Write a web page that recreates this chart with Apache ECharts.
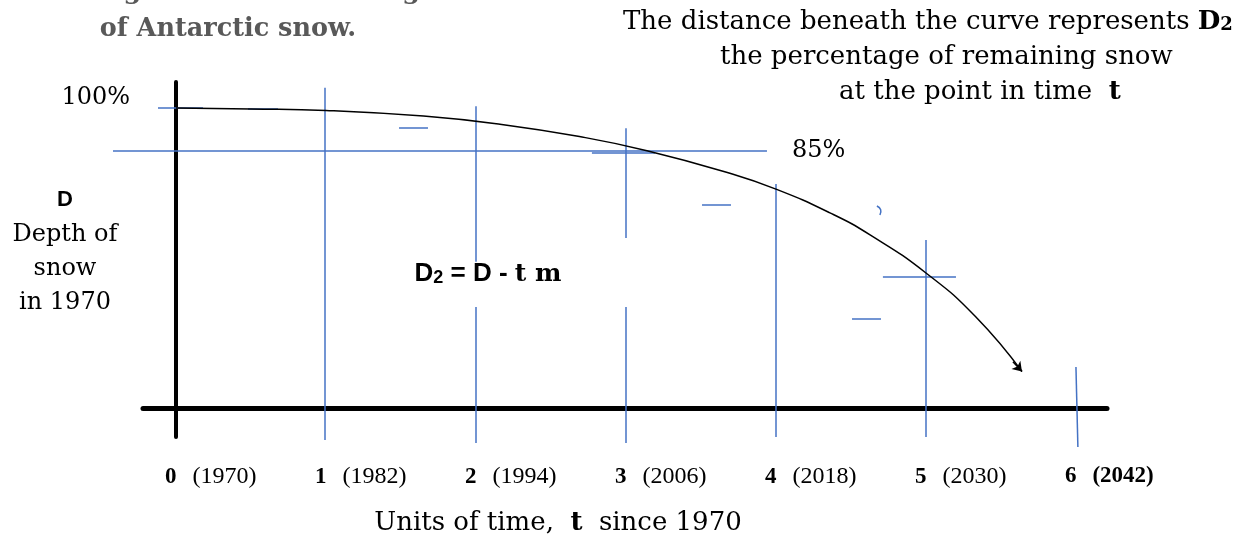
<!DOCTYPE html>
<html>
<head>
<meta charset="utf-8">
<script src="https://cdn.jsdelivr.net/npm/echarts@6/dist/echarts.min.js"></script>
<style>
  html, body { margin: 0; padding: 0; background: #fff; }
  #main { width: 1252px; height: 541px; }
</style>
</head>
<body>
<div id="main"></div>
<script>
// time units since 1970 (1 unit = 12 years)
var timeUnits = [0, 1, 2, 3, 4, 5, 6]
var years = ['1970', '1982', '1994', '2006', '2018', '2030', '2042']
var yearBold = [0, 0, 0, 0, 0, 0, 1]

// remaining snow (%)
var curveT = [0, 0.5, 1, 1.65, 2.16, 2.69, 3.14, 3.67, 4.0, 4.36, 4.63, 5.0, 5.33, 5.64]
var curveP = [100, 99.7, 99.2, 97.3, 94.6, 90.5, 85.8, 78.6, 73.0, 65.1, 57.7, 45.1, 30.6, 12.3]

// hand drawn blue strokes [t1, p1, t2, p2]
var guideLines = [
  [-0.12, 100, 0.18, 100],
  [0.48, 99.8, 0.68, 99.8],
  [1.487, 93.5, 1.68, 93.5],
  [2.773, 85, 3.193, 85],
  [3.507, 67.7, 3.7, 67.7],
  [4.507, 29.8, 4.7, 29.8],
  [4.713, 44, 5.2, 44],
  [0.99, 106.7, 0.99, -10.5],
  [2, 100.6, 2, 48.8],
  [2, 33.8, 2, -11.5],
  [3, 93.3, 3, 56.7],
  [3, 33.8, 3, -11.5],
  [4, 74.7, 4, -9.5],
  [5, 56.1, 5, -9.5],
  [6, 13.8, 6.013, -12.8]
]
var line85 = [-0.42, 85.8, 3.94, 85.8]
var smallArc = [4.673, 67.4, 4.693, 64.4]
var arrowHead = [5.58, 15.6, 5.64, 12.3]

var blue = '#4472C4'
var serif = 'DejaVu Serif'

function seg (s) {
  return { coords: [[s[0], s[1]], [s[2], s[3]]] }
}

var chart = echarts.init(document.getElementById('main'))

var option = {
  animation: false,
  grid: { left: 143, right: 145, top: 82, bottom: 104 },
  xAxis: {
    type: 'value',
    min: -0.22,
    max: 6.207,
    axisLine: { onZero: true, lineStyle: { color: '#000', width: 5 } },
    axisTick: { show: false },
    splitLine: { show: false },
    axisLabel: {
      customValues: timeUnits,
      align: 'left',
      margin: 28,
      padding: [0, 0, 0, -11],
      formatter: function (v) {
        var i = timeUnits.indexOf(Math.round(v))
        if (i < 0) return ''
        return '{n|' + timeUnits[i] + '}' + (yearBold[i] ? '{yb|(' : '{y|(') + years[i] + ')}'
      },
      rich: {
        n: { fontFamily: 'Liberation Serif', fontWeight: 'bold', fontSize: 23, color: '#000', padding: [0, 16, 0, 0] },
        y: { fontFamily: 'Liberation Serif', fontSize: 24, color: '#000' },
        yb: { fontFamily: 'Liberation Serif', fontWeight: 'bold', fontSize: 23, color: '#000' }
      }
    }
  },
  yAxis: {
    type: 'value',
    min: -9.48,
    max: 108.65,
    axisLine: { onZero: true, lineStyle: { color: '#000', width: 4 } },
    axisTick: { show: false },
    splitLine: { show: false },
    axisLabel: {
      customValues: [100],
      margin: 13,
      verticalAlign: 'bottom',
      lineHeight: 20,
      fontFamily: serif,
      fontSize: 24,
      color: '#000',
      formatter: function (v) { return Math.round(v) + '%' }
    }
  },
  series: [
    {
      type: 'line',
      smooth: 0.5,
      symbol: 'none',
      clip: false,
      lineStyle: { color: '#000', width: 1.5 },
      data: curveT.map(function (t, i) { return [t, curveP[i]] })
    },
    {
      type: 'lines',
      coordinateSystem: 'cartesian2d',
      clip: false,
      silent: true,
      lineStyle: { color: blue, width: 1.5, opacity: 1 },
      data: guideLines.map(seg)
    },
    {
      type: 'lines',
      coordinateSystem: 'cartesian2d',
      clip: false,
      silent: true,
      lineStyle: { color: blue, width: 1.5, opacity: 1 },
      label: {
        show: true,
        position: 'end',
        distance: 25,
        formatter: '85%',
        fontFamily: serif,
        fontSize: 24,
        color: '#000',
        padding: [14, 0, 0, 0]
      },
      data: [seg(line85)]
    },
    {
      type: 'lines',
      coordinateSystem: 'cartesian2d',
      clip: false,
      silent: true,
      lineStyle: { color: blue, width: 1.5, opacity: 1, curveness: 0.5 },
      data: [seg(smallArc)]
    },
    {
      type: 'lines',
      coordinateSystem: 'cartesian2d',
      clip: false,
      silent: true,
      symbol: ['none', 'arrow'],
      symbolSize: 9,
      lineStyle: { color: '#000', width: 1.5, opacity: 1 },
      data: [seg(arrowHead)]
    }
  ],
  graphic: [
    {
      type: 'text', x: 420, y: -8,
      style: { text: 'Graph illustrating the rate of melting', align: 'right', verticalAlign: 'middle',
        fontFamily: serif, fontWeight: 'bold', fontSize: 25.5, fill: '#595959' }
    },
    {
      type: 'text', x: 228, y: 29,
      style: { text: 'of Antarctic snow.', align: 'center', verticalAlign: 'middle',
        fontFamily: serif, fontWeight: 'bold', fontSize: 25.5, fill: '#595959' }
    },
    {
      type: 'text', x: 623, y: 22,
      style: {
        text: 'The distance beneath the curve represents {b|D}{s|2}',
        align: 'left', verticalAlign: 'middle', fontFamily: serif, fontSize: 26, fill: '#000',
        rich: {
          b: { fontFamily: serif, fontWeight: 'bold', fontSize: 26 },
          s: { fontFamily: serif, fontWeight: 'bold', fontSize: 18, padding: [6, 0, 0, 0] }
        }
      }
    },
    {
      type: 'text', x: 720, y: 57,
      style: { text: 'the percentage of remaining snow', align: 'left', verticalAlign: 'middle',
        fontFamily: serif, fontSize: 26, fill: '#000' }
    },
    {
      type: 'text', x: 839, y: 92,
      style: {
        text: 'at the point in time  {b|t}', align: 'left', verticalAlign: 'middle',
        fontFamily: serif, fontSize: 26, fill: '#000',
        rich: { b: { fontFamily: serif, fontWeight: 'bold', fontSize: 26 } }
      }
    },
    {
      type: 'text', x: 65, y: 181,
      style: {
        text: '{b|D}\n{r|Depth of}\n{r|snow}\n{r|in 1970}',
        align: 'center', verticalAlign: 'top', fill: '#000',
        rich: {
          b: { fontFamily: 'Liberation Sans', fontWeight: 'bold', fontSize: 22, lineHeight: 37 },
          r: { fontFamily: serif, fontSize: 24, lineHeight: 34 }
        }
      }
    },
    {
      type: 'text', x: 488, y: 274,
      style: {
        text: '{d|D}{s|2}{e| = D - }{m|t m}',
        align: 'center', verticalAlign: 'middle', fill: '#000',
        rich: {
          d: { fontFamily: 'Liberation Sans', fontWeight: 'bold', fontSize: 26 },
          s: { fontFamily: 'Liberation Sans', fontWeight: 'bold', fontSize: 18, padding: [8, 0, 0, 0] },
          e: { fontFamily: 'Liberation Sans', fontWeight: 'bold', fontSize: 26 },
          m: { fontFamily: serif, fontWeight: 'bold', fontSize: 25 }
        }
      }
    },
    {
      type: 'text', x: 558, y: 523,
      style: {
        text: 'Units of time,  {b|t}  since 1970', align: 'center', verticalAlign: 'middle',
        fontFamily: serif, fontSize: 26, fill: '#000',
        rich: { b: { fontFamily: serif, fontWeight: 'bold', fontSize: 26 } }
      }
    }
  ]
}

chart.setOption(option)
</script>
</body>
</html>
